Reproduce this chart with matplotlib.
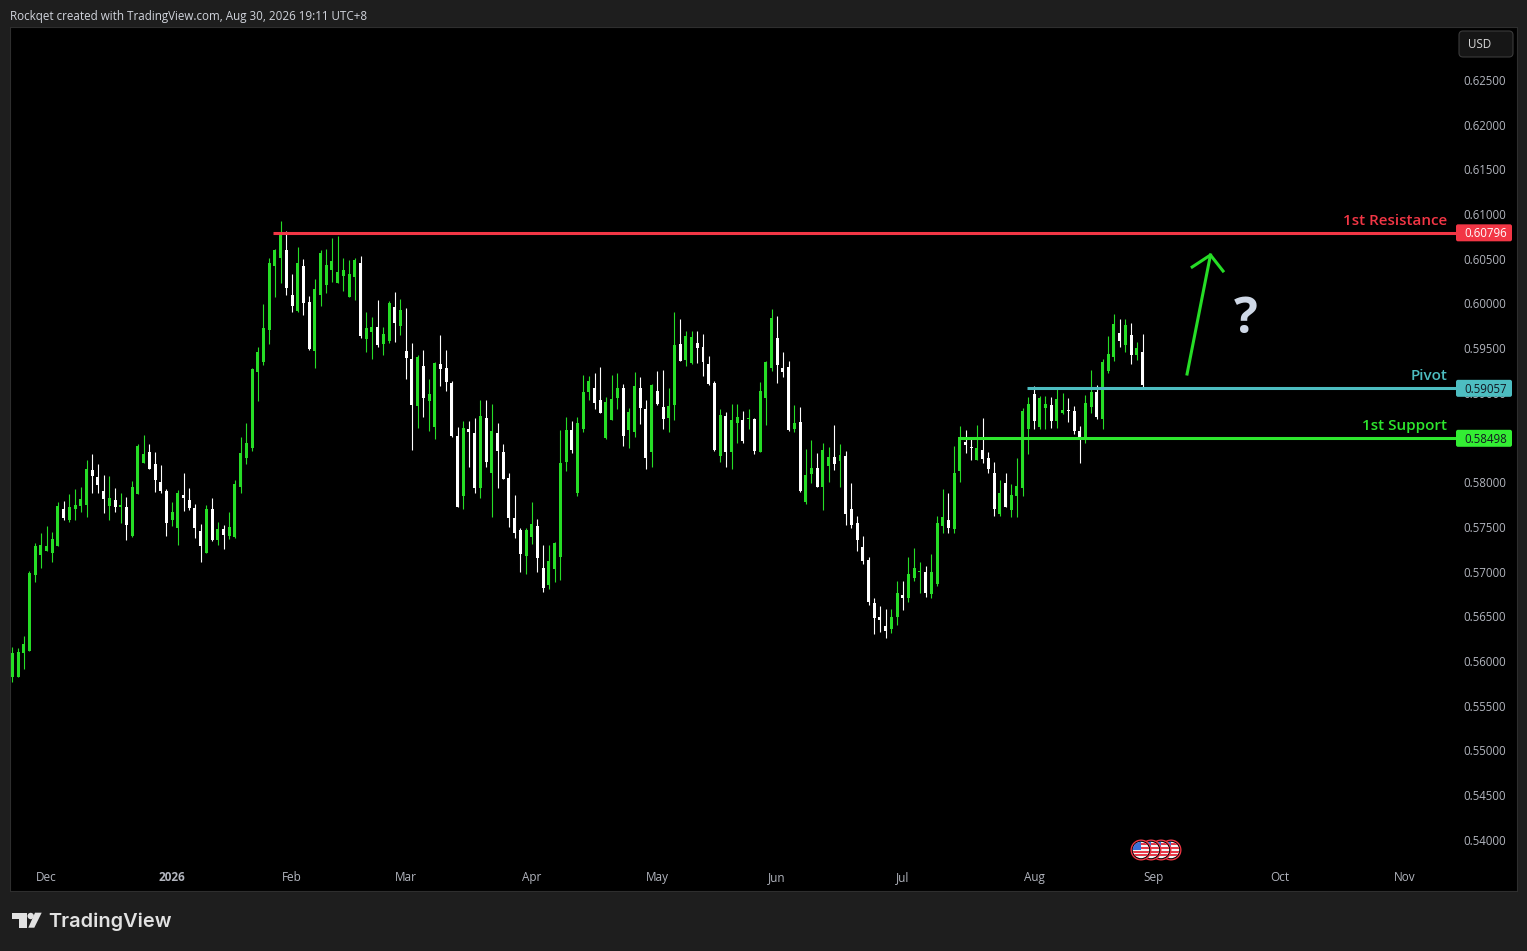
import numpy as np
import matplotlib
matplotlib.use('Agg')
import matplotlib.pyplot as plt
from matplotlib.patches import Circle, FancyBboxPatch, Polygon, Rectangle
from matplotlib.transforms import Affine2D, IdentityTransform

# Precios diarios en puntos (1e-5)
opens = np.array([
    55832, 55832, 56097, 56120, 56969, 57193, 57238, 57216, 57294, 57708,
    57585, 57708, 57741, 57752, 58144, 58066, 57909, 57741, 57808, 57730,
    57730, 57406, 57875, 58222, 58345, 58211, 58010, 57909, 57585, 57495,
    57864, 57808, 57719, 57462, 57216, 57708, 57361, 57484, 57406, 57394,
    57954, 58278, 58390, 59240, 59352, 59710, 60426, 60515, 60605, 60101,
    59922, 60426, 60023, 59475, 60101, 60213, 60381, 60236, 60314, 60079,
    60303, 60459, 59609, 59688, 59743, 59553, 59587, 59967, 59755, 59475,
    59386, 58860, 59307, 58916, 58625, 59330, 59285, 59117, 58524, 57853,
    58603, 58558, 57943, 58726, 58111, 58558, 58345, 58054, 57607, 57473,
    57182, 57394, 57517, 57048, 56857, 57036, 57171, 58233, 58591, 57886,
    58602, 59016, 59061, 58927, 58502, 58703, 58949, 59061, 58591, 58569,
    59061, 58826, 58345, 59027, 58848, 58725, 58871, 59553, 59374, 59340,
    59564, 59519, 59329, 59117, 58300, 58748, 58345, 58669, 58703, 58714,
    58714, 58345, 58949, 59284, 59620, 59284, 59296, 58602, 58681, 57786,
    58099, 58166, 57954, 58188, 58289, 58244, 58300, 57708, 57551, 57283,
    57137, 56656, 56500, 56399, 56365, 56500, 56746, 56712, 56936, 57003,
    57003, 56757, 56869, 57517, 57584, 57484, 58133, 58457, 58401, 58256,
    58367, 58278, 58110, 57652, 57998, 57696, 57853, 57942, 58602, 58994,
    58625, 58837, 58871, 58692, 58781, 58815, 58804, 58580, 58502, 58848,
    59016, 58714, 59251, 59408, 59676, 59542, 59654, 59430, 59463]) / 1e5
highs = np.array([
    56161, 56149, 56287, 57014, 57324, 57439, 57518, 57450, 57782, 57797,
    57875, 57931, 57954, 58256, 58323, 58211, 58088, 58077, 57942, 57887,
    57842, 58021, 58435, 58535, 58435, 58345, 58200, 57931, 57786, 57920,
    58110, 57942, 57763, 57540, 57752, 57831, 57562, 57529, 57674, 58032,
    58513, 58669, 59285, 59520, 60001, 60515, 60616, 60929, 60817, 60336,
    60638, 60504, 60090, 60280, 60605, 60616, 60739, 60761, 60515, 60493,
    60515, 60538, 59911, 59855, 60045, 59743, 60034, 60135, 60057, 59956,
    59565, 59430, 59486, 59162, 59352, 59654, 59486, 59140, 58625, 58692,
    58692, 58726, 58927, 58927, 58882, 58670, 58435, 58110, 57864, 57495,
    57495, 57786, 57596, 57305, 57305, 57338, 58591, 58736, 58692, 58736,
    59206, 59195, 59229, 59296, 58960, 59206, 59229, 59106, 58837, 59240,
    59184, 58927, 59106, 59251, 59262, 59061, 59911, 59833, 59698, 59698,
    59698, 59665, 59419, 59139, 58826, 58792, 58882, 58882, 58804, 58826,
    58725, 59128, 59363, 59944, 59866, 59463, 59363, 58871, 58848, 58379,
    58479, 58334, 58446, 58401, 58647, 58435, 58356, 57998, 57629, 57406,
    57171, 56712, 56623, 56589, 56589, 56902, 56902, 57171, 57271, 57115,
    57070, 57204, 57629, 57931, 57886, 58412, 58636, 58591, 58490, 58647,
    58725, 58345, 58233, 58032, 58110, 57987, 58278, 58837, 58960, 59083,
    58971, 58971, 58960, 59061, 59005, 58949, 58860, 58636, 58983, 59262,
    59094, 59385, 59642, 59888, 59833, 59833, 59788, 59575, 59665]) / 1e5
lows = np.array([
    55773, 55832, 55918, 56120, 56891, 57048, 57238, 57115, 57294, 57585,
    57562, 57585, 57674, 57618, 57887, 57887, 57663, 57585, 57674, 57551,
    57361, 57394, 57875, 58222, 58155, 57898, 57887, 57406, 57518, 57305,
    57685, 57696, 57383, 57115, 57216, 57350, 57305, 57260, 57372, 57383,
    57887, 58211, 58357, 58916, 59318, 59553, 60079, 60236, 60101, 59911,
    59911, 59878, 59486, 59285, 59978, 60124, 60247, 60236, 60146, 60079,
    60045, 59620, 59464, 59386, 59520, 59430, 59564, 59576, 59654, 59162,
    58368, 58614, 58737, 58580, 58491, 59084, 59028, 58513, 57730, 57708,
    58178, 57887, 57831, 58178, 57619, 57943, 58043, 57506, 57383, 57003,
    56981, 57316, 57003, 56779, 56813, 56891, 56914, 58133, 58334, 57853,
    58569, 58927, 58826, 58781, 58490, 58703, 58826, 58412, 58390, 58513,
    58658, 58155, 58177, 58871, 58602, 58569, 58703, 59363, 59307, 59329,
    59340, 59195, 59094, 58356, 58233, 58177, 58155, 58446, 58446, 58602,
    58323, 58345, 58647, 59251, 59117, 59184, 58580, 58569, 57898, 57763,
    57998, 57954, 57696, 58010, 58144, 57954, 57529, 57495, 57238, 57092,
    56634, 56309, 56332, 56265, 56321, 56410, 56578, 56667, 56902, 56768,
    56723, 56712, 56846, 57439, 57439, 57439, 58010, 58334, 58256, 58256,
    58222, 58110, 57629, 57629, 57730, 57618, 57618, 57853, 58323, 58602,
    58602, 58602, 58613, 58613, 58770, 58681, 58546, 58222, 58446, 58781,
    58714, 58602, 59229, 59363, 59519, 59463, 59329, 59374, 59050]) / 1e5
closes = np.array([
    56097, 56108, 56198, 56992, 57294, 57305, 57294, 57372, 57741, 57603,
    57730, 57752, 57819, 58155, 58077, 57976, 57819, 57831, 57730, 57752,
    57529, 57954, 58412, 58323, 58155, 58032, 57909, 57551, 57674, 57887,
    57831, 57719, 57495, 57294, 57708, 57361, 57484, 57417, 57506, 57987,
    58334, 58446, 59274, 59464, 59732, 60459, 60605, 60795, 60180, 59978,
    60459, 60012, 59497, 60168, 60571, 60437, 60482, 60359, 60381, 60336,
    60493, 59643, 59732, 59743, 59542, 59665, 60012, 59788, 59934, 59397,
    58871, 59408, 58949, 58994, 59341, 59274, 59128, 58524, 57730, 58614,
    58569, 57943, 58748, 58234, 58580, 58357, 58043, 57607, 57439, 57204,
    57473, 57540, 57160, 56824, 57126, 57327, 58222, 58591, 58367, 58669,
    59016, 59139, 58893, 58781, 58904, 58938, 59061, 58524, 58792, 59083,
    58837, 58278, 59094, 58882, 58714, 58860, 59542, 59363, 59642, 59631,
    59508, 59352, 59106, 58367, 58759, 58345, 58703, 58736, 58468, 58725,
    58356, 59027, 59352, 59844, 59318, 59240, 58591, 58669, 57909, 58088,
    58166, 57954, 58367, 58289, 58211, 58311, 57652, 57529, 57361, 57126,
    56667, 56489, 56466, 56343, 56500, 56768, 56712, 56981, 57048, 57014,
    56768, 57003, 57551, 57618, 57495, 58110, 58513, 58423, 58390, 58390,
    58267, 58155, 57708, 57886, 57730, 57864, 57965, 58804, 58882, 58692,
    58949, 58882, 58692, 58938, 58815, 58804, 58580, 58502, 58893, 59016,
    58736, 59352, 59441, 59777, 59586, 59765, 59430, 59508, 59094]) / 1e5

# Niveles horizontales
level_names = ['1st Resistance', 'Pivot', '1st Support']
level_prices = [0.60796, 0.59057, 0.58498]
level_starts = [45.7, 177.8, 165.6]
level_end = 253

# Ejes
price_ticks = np.arange(0.54, 0.6251, 0.005)
time_labels = ['Dec', '2026', 'Feb', 'Mar', 'Apr', 'May', 'Jun', 'Jul', 'Aug', 'Sep', 'Oct', 'Nov']
time_ticks = [6, 28, 49, 69, 91, 113, 134, 156, 179, 200, 222, 244]

# Flecha de proyección (índice de vela, precio)
arrow_x = [205.8, 209.9]
arrow_y = [0.59217, 0.60548]
barb_x = [206.7, 209.9, 212.1]
barb_y = [0.60414, 0.60548, 0.60369]

W, H = 1527, 951
FONT = 'Open Sans'
BG = '#1e1e1e'
UP = '#26dd26'
DOWN = '#ffffff'
AXIS_TEXT = '#b2b5be'
LEVEL_COLORS = ['#f23645', '#4dbdc1', '#2ee62e']
BOX_COLORS = ['#f23645', '#4dbdc1', '#33ee33']
BOX_TEXT = ['#ffffff', '#131722', '#131722']

# Coordenadas de imagen (y hacia abajo) para logo, iconos y marcos
px = Affine2D().scale(1, -1).translate(0, H)


def draw_candles(ax):
    x = np.arange(len(opens))
    colors = [UP if c >= o else DOWN for o, c in zip(opens, closes)]
    ax.vlines(x, lows, highs, colors=colors, linewidth=0.8, zorder=3)
    bottoms = np.minimum(opens, closes)
    heights = np.maximum(np.abs(closes - opens), 0.00012)
    ax.bar(x, heights, bottom=bottoms, width=0.525, color=colors, linewidth=0, zorder=3)


def draw_levels(fig, ax):
    for i in range(len(level_names)):
        price = level_prices[i]
        ax.plot([level_starts[i], level_end], [price, price], color=LEVEL_COLORS[i],
                linewidth=2.2, solid_capstyle='butt', zorder=4)
        y = ax.transData.transform((0, price))[1]
        fig.add_artist(FancyBboxPatch((1458, y - 6.5), 52, 13, boxstyle='round,pad=2,rounding_size=2',
                                      transform=IdentityTransform(), facecolor=BOX_COLORS[i],
                                      edgecolor='none', zorder=5))
        fig.text(1464, y + 0.5, f'{price:.5f}', transform=IdentityTransform(), color=BOX_TEXT[i],
                 fontsize=8.3, family=FONT, va='center_baseline', ha='left', zorder=6)
        fig.text(1447.5, y + 13.5, level_names[i], transform=IdentityTransform(), color=LEVEL_COLORS[i],
                 fontsize=11, family=FONT, fontweight='semibold', va='center_baseline', ha='right', zorder=6)


def draw_flags(fig):
    # Del último al primero para que el de la izquierda quede encima
    for cx in [1171, 1161, 1151, 1141]:
        fig.add_artist(Circle((cx, 850), 10.5, transform=px, facecolor='#f23645', edgecolor='none', zorder=5))
        fig.add_artist(Circle((cx, 850), 9.2, transform=px, facecolor='#000000', edgecolor='none', zorder=5))
        clip = Circle((cx, 850), 8.2, transform=px, facecolor='#f4f4f4', edgecolor='none', zorder=5)
        fig.add_artist(clip)
        for k in range(4):
            stripe = Rectangle((cx - 9, 843 + k * 3.8), 18, 1.9, transform=px,
                               facecolor='#e8394a', edgecolor='none', zorder=5)
            stripe.set_clip_path(clip)
            fig.add_artist(stripe)
        canton = Rectangle((cx - 9, 841), 9, 9, transform=px, facecolor='#3a6fd8', edgecolor='none', zorder=5)
        canton.set_clip_path(clip)
        fig.add_artist(canton)


def draw_logo(fig):
    logo = '#e2e2e2'
    fig.add_artist(Polygon([(12.3, 912.7), (26.7, 912.7), (26.7, 927.7), (19.3, 927.7), (19.3, 919), (12.3, 919)],
                           transform=px, facecolor=logo, edgecolor='none', zorder=5))
    fig.add_artist(Circle((30.7, 916), 3.2, transform=px, facecolor=logo, edgecolor='none', zorder=5))
    fig.add_artist(Polygon([(35, 912.7), (41.7, 912.7), (34.3, 927.7), (28.3, 927.7)],
                           transform=px, facecolor=logo, edgecolor='none', zorder=5))
    fig.text(48 / W, 1 - 920 / H, 'TradingView', color=logo, fontsize=14.4, family='Inter',
             fontweight='semibold', va='center_baseline', ha='left')


def main():
    fig = plt.figure(figsize=(W / 100, H / 100), dpi=100, facecolor=BG)
    ax = fig.add_axes([10 / W, (H - 891) / H, 1507 / W, 864 / H], facecolor='#000000')
    ax.set_xlim(-0.403, 263.6)
    ax.set_ylim(0.53435, 0.63098)
    for spine in ax.spines.values():
        spine.set_color('#2e2e2e')
        spine.set_linewidth(0.8)

    draw_candles(ax)

    ax.yaxis.tick_right()
    ax.set_yticks(price_ticks, [f'{p:.5f}' for p in price_ticks])
    ax.tick_params(axis='y', length=0, pad=-38.9, labelsize=8.3, labelcolor=AXIS_TEXT)
    ax.set_xticks(time_ticks, time_labels)
    ax.tick_params(axis='x', length=0, pad=-14.2, labelsize=8.5, labelcolor=AXIS_TEXT)
    for label in ax.get_xticklabels() + ax.get_yticklabels():
        label.set_family(FONT)
    for label in ax.get_yticklabels():
        label.set_transform(label.get_transform() + Affine2D().translate(0, 0.6))
    ax.get_xticklabels()[1].set_fontweight('bold')

    draw_levels(fig, ax)

    # Flecha y signo de interrogación
    ax.plot(arrow_x, arrow_y, color=UP, linewidth=2.2, zorder=4)
    ax.plot(barb_x, barb_y, color=UP, linewidth=2.2, zorder=4)
    ax.text(216.1, 0.5982, '?', color='#cfd8e6', fontsize=36, family=FONT, fontweight='bold',
            ha='center', va='center', zorder=4)

    draw_flags(fig)

    # Botón de divisa
    fig.add_artist(FancyBboxPatch((1463, 35), 46, 18, boxstyle='round,pad=4,rounding_size=4', transform=px,
                                  facecolor='#161616', edgecolor='#3a3a3a', linewidth=0.8, zorder=5))
    fig.text(1468 / W, 1 - 43.5 / H, 'USD', color='#d8d8d8', fontsize=8.4, family=FONT,
             va='center_baseline', ha='left', zorder=6)

    fig.text(10 / W, 1 - 15 / H, 'Rockqet created with TradingView.com, Aug 30, 2026 19:11 UTC+8',
             color='#d1d4dc', fontsize=8.36, family=FONT, va='center_baseline', ha='left')
    draw_logo(fig)

    fig.savefig('out.png', dpi=100, facecolor=BG)


if __name__ == '__main__':
    main()
